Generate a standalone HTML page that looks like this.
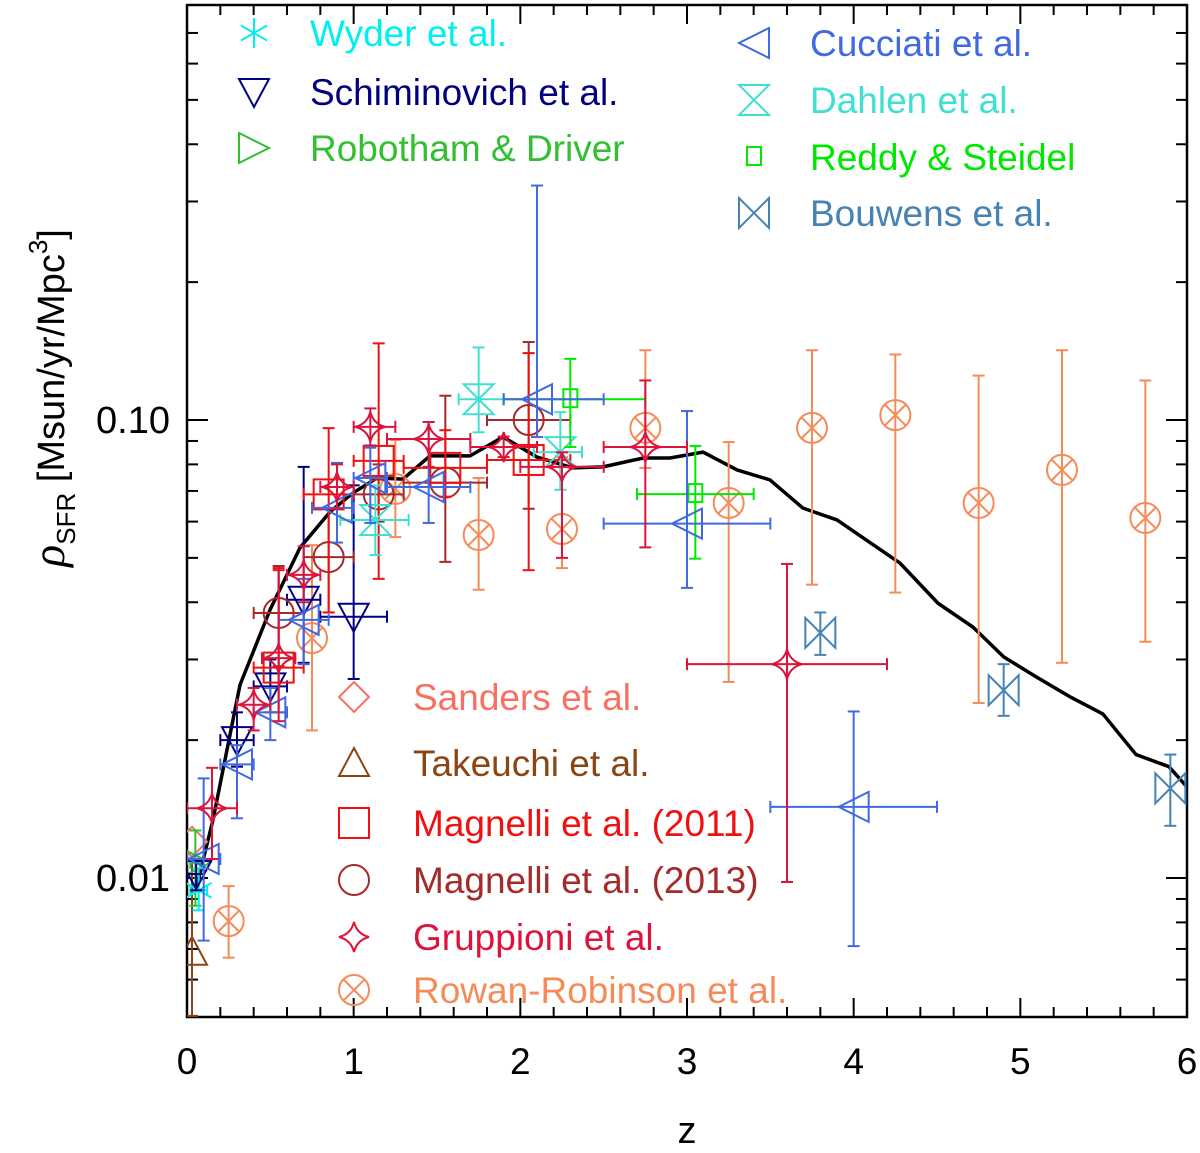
<!DOCTYPE html>
<html><head><meta charset="utf-8"><style>
html,body{margin:0;padding:0;background:#fff;}
svg{display:block;font-family:"Liberation Sans",sans-serif;}
</style></head><body>
<svg id="chart" width="1200" height="1153" viewBox="0 0 1200 1153" xmlns="http://www.w3.org/2000/svg">
<rect x="0" y="0" width="1200" height="1153" fill="#fff"/>
<g id="axes"></g>
<g id="marks"></g>
<g id="legend"></g>
<text x="687" y="1143" font-size="38" text-anchor="middle">z</text>
<text transform="translate(64,398) rotate(-90)" font-size="38" text-anchor="middle"><tspan font-style="italic" font-family="Liberation Serif, serif" font-size="46">ρ</tspan><tspan font-size="26" dy="11">SFR</tspan><tspan dy="-11"> [Msun/yr/Mpc</tspan><tspan font-size="26" dy="-17">3</tspan><tspan dy="17">]</tspan></text>
</svg>
<script>
// ---------- data ----------
const xTicks = [0,1,2,3,4,5,6];
const yMajorTicks = [0.01,0.1];
const yMajorLabels = ["0.01","0.10"];
const yMinorTicks = [0.006,0.007,0.008,0.009,0.02,0.03,0.04,0.05,0.06,0.07,0.08,0.09,0.2,0.3,0.4,0.5,0.6,0.7];

const modelZ = [0.06,0.156,0.318,0.498,0.678,0.858,0.996,1.14,1.296,1.458,1.698,1.896,2.1,2.316,2.496,2.736,2.898,3.096,3.3,3.498,3.696,3.9,4.098,4.278,4.506,4.716,4.9,5.094,5.304,5.496,5.694,5.892,6.0];
const modelV = [0.00966,0.0134,0.0264,0.0385,0.0526,0.063,0.0693,0.0747,0.0743,0.0835,0.0835,0.0918,0.083,0.0786,0.079,0.0826,0.0826,0.0851,0.0778,0.074,0.0642,0.0605,0.054,0.0487,0.0398,0.0353,0.0304,0.0275,0.0248,0.0228,0.0186,0.0175,0.0158];

const wyderZ=[0.07], wyderV=[0.0094], wyderHi=[0.0105], wyderLo=[0.0085], wyderZLo=[0.02], wyderZHi=[0.12];
const schimZ=[0.055,0.3,0.5,0.7,1.0], schimV=[0.0102,0.0200,0.0262,0.0405,0.0372], schimHi=[0.011,0.023,0.030,0.079,0.072], schimLo=[0.0094,0.0175,0.023,0.0295,0.0272], schimZLo=[0.0,0.2,0.4,0.6,0.8], schimZHi=[0.1,0.4,0.6,0.8,1.2];
const robZ=[0.05], robV=[0.0108], robHi=[0.0127], robLo=[0.0087], robZLo=[0.02], robZHi=[0.08];
const cucZ=[0.1,0.3,0.5,0.7,0.9,1.1,1.45,2.1,3.0,4.0], cucV=[0.011,0.0177,0.023,0.0366,0.0643,0.0747,0.0714,0.111,0.0594,0.0143], cucHi=[0.0165,0.0195,0.026,0.045,0.0806,0.087,0.099,0.325,0.1046,0.0231], cucLo=[0.0073,0.0135,0.020,0.0293,0.054,0.0596,0.0596,0.0918,0.043,0.0071], cucZLo=[0.0,0.2,0.4,0.55,0.75,1.0,1.2,1.9,2.5,3.5], cucZHi=[0.2,0.4,0.6,0.85,1.0,1.2,1.7,2.5,3.5,4.5];
const dahZ=[1.13,1.75,2.24], dahV=[0.0605,0.111,0.0851], dahHi=[0.072,0.144,0.104], dahLo=[0.0507,0.094,0.0704], dahZLo=[0.92,1.63,2.08], dahZHi=[1.33,1.9,2.37];
const redZ=[2.3,3.05], redV=[0.111,0.0689], redHi=[0.136,0.0878], redLo=[0.0873,0.0498], redZLo=[1.9,2.7], redZHi=[2.75,3.4];
const bouZ=[3.8,4.9,5.9], bouV=[0.0343,0.0257,0.0157], bouHi=[0.038,0.0293,0.0186], bouLo=[0.0307,0.0226,0.013];
const sanZ=[0.03], sanV=[0.012];
const takZ=[0.03], takV=[0.0069], takHi=[0.011], takLo=[0.005];
const m11Z=[0.55,0.85,1.15,1.55,2.05], m11V=[0.0288,0.0688,0.0814,0.0786,0.0818], m11Hi=[0.0475,0.096,0.147,0.095,0.14], m11Lo=[0.023,0.038,0.045,0.068,0.047], m11ZLo=[0.4,0.7,1.0,1.3,1.8], m11ZHi=[0.7,1.0,1.3,1.8,2.3];
const m13Z=[0.55,0.85,1.15,1.55,2.05], m13V=[0.0379,0.0502,0.0688,0.073,0.1], m13Hi=[0.048,0.064,0.08,0.113,0.148], m13Lo=[0.029,0.038,0.06,0.049,0.064], m13ZLo=[0.4,0.7,1.0,1.3,1.8], m13ZHi=[0.7,1.0,1.3,1.8,2.3];
const grZ=[0.15,0.4,0.55,0.7,0.9,1.1,1.45,1.9,2.25,2.75,3.6], grV=[0.0142,0.0239,0.0302,0.0459,0.0714,0.0966,0.0909,0.0873,0.079,0.0873,0.0293], grHi=[0.0174,0.026,0.047,0.053,0.08,0.106,0.099,0.092,0.085,0.122,0.0485], grLo=[0.011,0.021,0.022,0.04,0.064,0.088,0.079,0.083,0.05,0.0527,0.0098], grZLo=[0.0,0.3,0.45,0.6,0.8,1.0,1.2,1.7,2.0,2.5,3.0], grZHi=[0.3,0.5,0.65,0.8,1.0,1.25,1.7,2.1,2.5,3.0,4.2];
const rrZ=[0.25,0.75,1.25,1.75,2.25,2.75,3.25,3.75,4.25,4.75,5.25,5.75], rrV=[0.00805,0.0334,0.0707,0.0561,0.0578,0.0961,0.0659,0.0961,0.1025,0.0659,0.0778,0.0611], rrHi=[0.0096,0.0533,0.0904,0.0747,0.083,0.142,0.0895,0.142,0.139,0.125,0.142,0.122], rrLo=[0.0067,0.021,0.0555,0.0426,0.0475,0.0786,0.0268,0.0437,0.042,0.0241,0.0295,0.0328];

// ---------- geometry ----------
const L=187, R=1187, T=5, B=1017;
function X(z){ return L + z*(R-L)/6; }
function Y(v){ return 420 - (Math.log10(v)+1)*458; }
const NS="http://www.w3.org/2000/svg";
function mk(tag, attrs, parent){ const e=document.createElementNS(NS,tag); for(const k in attrs) e.setAttribute(k,attrs[k]); parent.appendChild(e); return e; }

const axes=document.getElementById('axes');
const marks=document.getElementById('marks');
const legend=document.getElementById('legend');

const defs=mk('defs',{},document.getElementById('chart'));
const cp=mk('clipPath',{id:'plotclip'},defs);
mk('rect',{x:L,y:T,width:R-L,height:B-T},cp);
marks.setAttribute('clip-path','url(#plotclip)');

const frame=mk('rect',{x:L,y:T,width:R-L,height:B-T,fill:'none',stroke:'#000','stroke-width':2.5},axes);


for(let i=0;i<=30;i++){
  const z=i*0.2, x=X(z), major=(i%5===0), len=major?19:10;
  mk('line',{x1:x,y1:B,x2:x,y2:B-len,stroke:'#000','stroke-width':2},axes);
  mk('line',{x1:x,y1:T,x2:x,y2:T+len,stroke:'#000','stroke-width':2},axes);
}
xTicks.forEach(t=>{
  const tl=mk('text',{x:X(t),y:1074,'font-size':37,'text-anchor':'middle'},axes);
  tl.textContent=String(t);
  
  
});
yMajorTicks.forEach((v,i)=>{
  const y=Y(v);
  mk('line',{x1:L,y1:y,x2:L+21,y2:y,stroke:'#000','stroke-width':2},axes);
  mk('line',{x1:R,y1:y,x2:R-21,y2:y,stroke:'#000','stroke-width':2},axes);
  const tl=mk('text',{x:170,y:y+13,'font-size':38,'text-anchor':'end'},axes);
  tl.textContent=yMajorLabels[i];
  
  
});
yMinorTicks.forEach(v=>{
  const y=Y(v);
  mk('line',{x1:L,y1:y,x2:L+11,y2:y,stroke:'#000','stroke-width':2},axes);
  mk('line',{x1:R,y1:y,x2:R-11,y2:y,stroke:'#000','stroke-width':2},axes);
});

const mp=mk('polyline',{points:modelZ.map((z,i)=>X(z)+','+Y(modelV[i])).join(' '),fill:'none',stroke:'#000','stroke-width':3.5,'stroke-linejoin':'round'},marks);



function marker(g,type,x,y,c,s){
  s=s||15; const st={fill:'none',stroke:c,'stroke-width':2};
  const a=(o)=>Object.assign({},st,o);
  if(type==='asterisk'){
    for(const ang of [90,30,150]){const r=ang*Math.PI/180; mk('line',a({x1:x-s*Math.cos(r),y1:y-s*Math.sin(r),x2:x+s*Math.cos(r),y2:y+s*Math.sin(r)}),g);}
  } else if(type==='tridown'){
    mk('polygon',a({points:`${x-15},${y-13} ${x+15},${y-13} ${x},${y+15}`}),g);
  } else if(type==='triright'){
    mk('polygon',a({points:`${x-15},${y-15} ${x-15},${y+15} ${x+15},${y}`}),g);
  } else if(type==='trileft'){
    mk('polygon',a({points:`${x+15},${y-15} ${x+15},${y+15} ${x-15},${y}`}),g);
  } else if(type==='triup'){
    mk('polygon',a({points:`${x-15},${y+13} ${x+15},${y+13} ${x},${y-15}`}),g);
  } else if(type==='hourglass'){
    mk('polygon',a({points:`${x-15},${y-15} ${x+15},${y-15} ${x-15},${y+15} ${x+15},${y+15}`}),g);
  } else if(type==='bowtie'){
    mk('polygon',a({points:`${x-15},${y-15} ${x-15},${y+15} ${x+15},${y-15} ${x+15},${y+15}`}),g);
  } else if(type==='smallsq'){
    mk('rect',a({x:x-7,y:y-10,width:14,height:18}),g);
  } else if(type==='square'){
    mk('rect',a({x:x-15,y:y-15,width:30,height:30}),g);
  } else if(type==='circle'){
    mk('circle',a({cx:x,cy:y,r:15}),g);
  } else if(type==='diamond'){
    mk('polygon',a({points:`${x},${y-15} ${x+15},${y} ${x},${y+15} ${x-15},${y}`}),g);
  } else if(type==='star'){
    mk('path',a({d:`M${x},${y-15} Q${x+3},${y-3} ${x+15},${y} Q${x+3},${y+3} ${x},${y+15} Q${x-3},${y+3} ${x-15},${y} Q${x-3},${y-3} ${x},${y-15}Z`}),g);
  } else if(type==='otimes'){
    mk('circle',a({cx:x,cy:y,r:15}),g);
    const d=10.6; mk('line',a({x1:x-d,y1:y-d,x2:x+d,y2:y+d}),g); mk('line',a({x1:x-d,y1:y+d,x2:x+d,y2:y-d}),g);
  }
}

function series(name,type,color,zs,vs,hi,lo,zlo,zhi){
  const g=mk('g',{},marks);
  
  
  zs.forEach((z,i)=>{
    const pg=mk('g',{},g);
    
    
    const x=X(z), y=Y(vs[i]); const st={stroke:color,'stroke-width':2};
    if(hi){ const y1=Y(hi[i]), y2=Y(lo[i]);
      mk('line',Object.assign({x1:x,y1:y1,x2:x,y2:y2},st),pg);
      mk('line',Object.assign({x1:x-6,y1:y1,x2:x+6,y2:y1},st),pg);
      mk('line',Object.assign({x1:x-6,y1:y2,x2:x+6,y2:y2},st),pg); }
    if(zlo){ const x1=X(zlo[i]), x2=X(zhi[i]);
      mk('line',Object.assign({x1:x1,y1:y,x2:x2,y2:y},st),pg);
      mk('line',Object.assign({x1:x1,y1:y-6,x2:x1,y2:y+6},st),pg);
      mk('line',Object.assign({x1:x2,y1:y-6,x2:x2,y2:y+6},st),pg); }
    marker(pg,type,x,y,color);
  });
}

const C={wyder:'#00F0F0',schim:'#000080',rob:'#32C032',cuc:'#4169E1',dah:'#40E0D0',red:'#00E800',bou:'#4682B4',san:'#FA7060',tak:'#8B4513',m11:'#F01010',m13:'#A52A2A',gr:'#DC143C',rr:'#F58B58'};
series('takeuchi','triup',C.tak,takZ,takV,takHi,takLo,null,null);
series('sanders','diamond',C.san,sanZ,sanV,null,null,null,null);
series('rowan-robinson','otimes',C.rr,rrZ,rrV,rrHi,rrLo,null,null);
series('robotham','triright',C.rob,robZ,robV,robHi,robLo,robZLo,robZHi);
series('wyder','asterisk',C.wyder,wyderZ,wyderV,wyderHi,wyderLo,wyderZLo,wyderZHi);
series('schiminovich','tridown',C.schim,schimZ,schimV,schimHi,schimLo,schimZLo,schimZHi);
series('magnelli-2013','circle',C.m13,m13Z,m13V,m13Hi,m13Lo,m13ZLo,m13ZHi);
series('magnelli-2011','square',C.m11,m11Z,m11V,m11Hi,m11Lo,m11ZLo,m11ZHi);
series('dahlen','hourglass',C.dah,dahZ,dahV,dahHi,dahLo,dahZLo,dahZHi);
series('reddy-steidel','smallsq',C.red,redZ,redV,redHi,redLo,redZLo,redZHi);
series('cucciati','trileft',C.cuc,cucZ,cucV,cucHi,cucLo,cucZLo,cucZHi);
series('gruppioni','star',C.gr,grZ,grV,grHi,grLo,grZLo,grZHi);
series('bouwens','bowtie',C.bou,bouZ,bouV,bouHi,bouLo,null,null);

const legItems=[
 ['Wyder et al.','asterisk',C.wyder,254,310,33],
 ['Schiminovich et al.','tridown',C.schim,254,310,92],
 ['Robotham & Driver','triright',C.rob,254,310,148],
 ['Cucciati et al.','trileft',C.cuc,754,810,43],
 ['Dahlen et al.','hourglass',C.dah,754,810,100],
 ['Reddy & Steidel','smallsq',C.red,754,810,157],
 ['Bouwens et al.','bowtie',C.bou,754,810,213],
 ['Sanders et al.','diamond',C.san,354,413,697],
 ['Takeuchi et al.','triup',C.tak,354,413,763],
 ['Magnelli et al. (2011)','square',C.m11,354,413,823],
 ['Magnelli et al. (2013)','circle',C.m13,354,413,880],
 ['Gruppioni et al.','star',C.gr,354,413,937],
 ['Rowan-Robinson et al.','otimes',C.rr,354,413,990]
];
legItems.forEach(it=>{
  const g=mk('g',{},legend);
  
  
  marker(g,it[1],it[3],it[5],it[2]);
  const t=mk('text',{x:it[4],y:it[5]+13,'font-size':37,fill:it[2]},g);
  t.textContent=it[0];
});
</script>
</body></html>
